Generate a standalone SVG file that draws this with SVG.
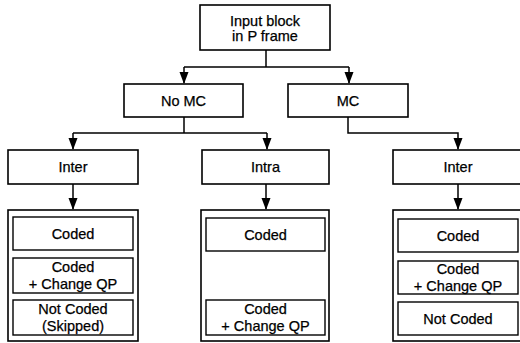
<svg xmlns="http://www.w3.org/2000/svg" width="520" height="343" viewBox="0 0 520 343">
<style>
.box{fill:#fff;stroke:#000;stroke-width:1.6}
.in{fill:#fff;stroke:#000;stroke-width:1.4}
.t{font-family:"Liberation Sans",Arial,sans-serif;font-size:14.5px;text-anchor:middle;fill:#000;stroke:#000;stroke-width:0.25}
.c{fill:none;stroke:#000;stroke-width:1.5}
</style>
<rect width="520" height="343" fill="#fff"/>
<g id="connectors">
<path class="c" d="M266,50 V67 M184,67 H349"/>
<line class="c" x1="184" y1="67" x2="184" y2="83"/>
<line class="c" x1="349" y1="67" x2="349" y2="83"/>
<path class="c" d="M184,117 V133 M73,133 H267"/>
<line class="c" x1="73" y1="133" x2="73" y2="149"/>
<line class="c" x1="267" y1="133" x2="267" y2="149"/>
<path class="c" d="M348,117 V133 H458 V149"/>
<line class="c" x1="73" y1="184" x2="73" y2="209"/>
<line class="c" x1="266" y1="184" x2="266" y2="209"/>
<line class="c" x1="458" y1="184" x2="458" y2="209"/>
<g fill="#000">
<path d="M179.5,72 L188.5,72 L184,84 Z"/>
<path d="M344.5,72 L353.5,72 L349,84 Z"/>
<path d="M68.5,138 L77.5,138 L73,150 Z"/>
<path d="M262.5,138 L271.5,138 L267,150 Z"/>
<path d="M453.5,138 L462.5,138 L458,150 Z"/>
<path d="M68.5,198 L77.5,198 L73,210 Z"/>
<path d="M261.5,198 L270.5,198 L266,210 Z"/>
<path d="M453.5,198 L462.5,198 L458,210 Z"/>
</g>
</g>
<g id="input">
<rect class="box" x="200" y="5" width="130" height="45"/>
<text class="t" x="265" y="26">Input block</text>
<text class="t" x="265" y="41">in P frame</text>
</g>
<g id="nomc">
<rect class="box" x="124" y="84" width="119" height="33"/>
<text class="t" x="183.5" y="105.5">No MC</text>
</g>
<g id="mc">
<rect class="box" x="288" y="84" width="120" height="33"/>
<text class="t" x="348" y="105.5">MC</text>
</g>
<g id="inter1">
<rect class="box" x="8" y="150" width="130" height="34"/>
<text class="t" x="73" y="172">Inter</text>
</g>
<g id="intra">
<rect class="box" x="202" y="150" width="127" height="34"/>
<text class="t" x="265.5" y="172">Intra</text>
</g>
<g id="inter2">
<rect class="box" x="393" y="150" width="130" height="34"/>
<text class="t" x="458" y="172">Inter</text>
</g>
<g id="group1">
<rect class="box" x="8" y="210" width="130" height="131"/>
<rect class="in" x="13" y="217" width="120" height="33"/>
<text class="t" x="73" y="239">Coded</text>
<rect class="in" x="13" y="258" width="120" height="35"/>
<text class="t" x="73" y="272">Coded</text>
<text class="t" x="73" y="289">+ Change QP</text>
<rect class="in" x="13" y="300" width="120" height="35"/>
<text class="t" x="73" y="314">Not Coded</text>
<text class="t" x="73" y="331">(Skipped)</text>
</g>
<g id="group2">
<rect class="box" x="201" y="210" width="128" height="131"/>
<rect class="in" x="206" y="218" width="119" height="33"/>
<text class="t" x="265.5" y="240">Coded</text>
<rect class="in" x="206" y="300" width="119" height="35"/>
<text class="t" x="265.5" y="314">Coded</text>
<text class="t" x="265.5" y="331">+ Change QP</text>
</g>
<g id="group3">
<rect class="box" x="393" y="210" width="130" height="131"/>
<rect class="in" x="398" y="219" width="120" height="33"/>
<text class="t" x="458" y="241">Coded</text>
<rect class="in" x="398" y="261" width="120" height="33"/>
<text class="t" x="458" y="274">Coded</text>
<text class="t" x="458" y="291">+ Change QP</text>
<rect class="in" x="398" y="302" width="120" height="33"/>
<text class="t" x="458" y="324">Not Coded</text>
</g>
</svg>
